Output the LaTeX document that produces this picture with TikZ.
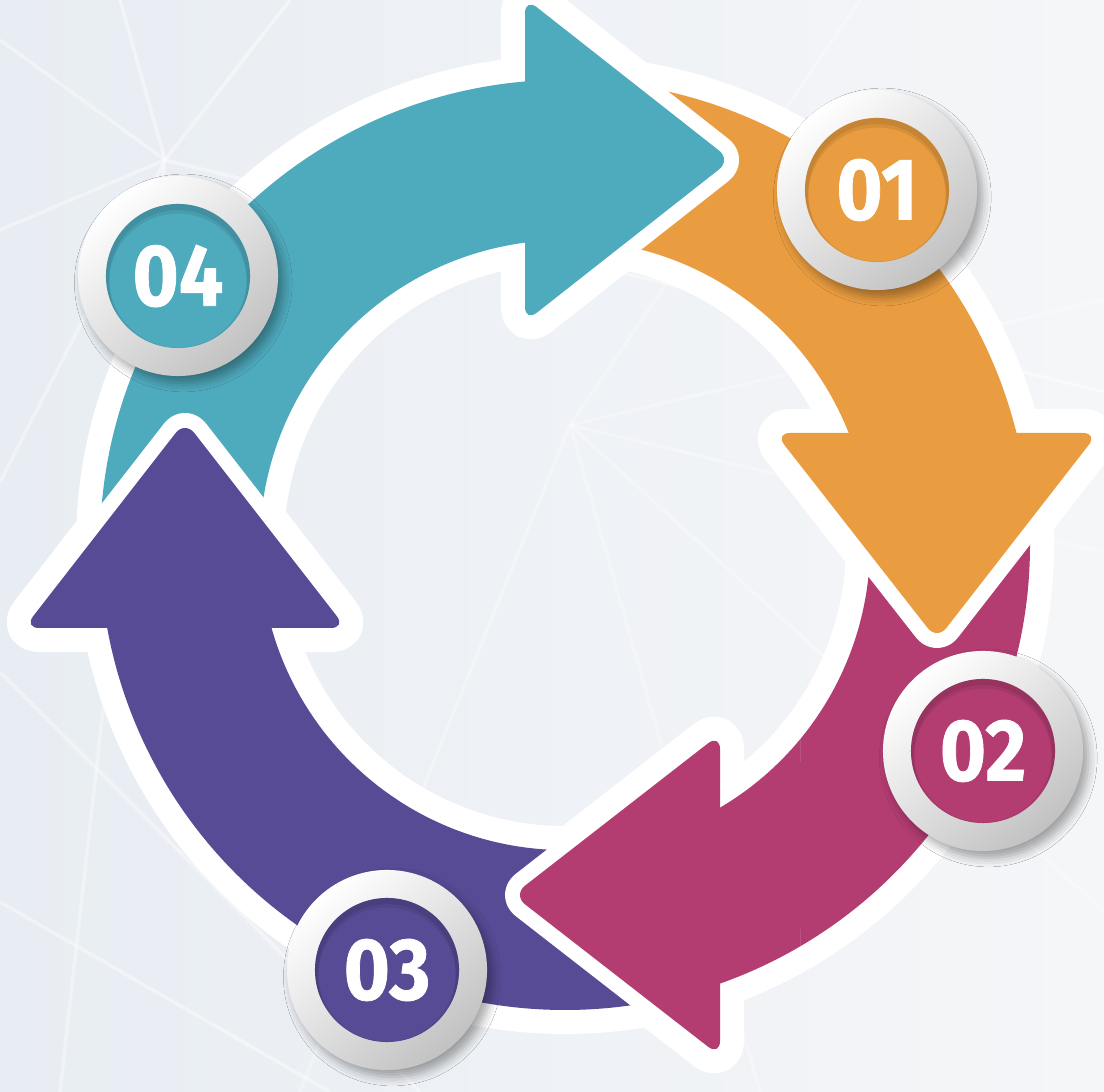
\documentclass[tikz,border=0pt]{standalone}
\usepackage{fontspec}
\usepackage{xcolor}
\usepackage{tikz}
\usetikzlibrary{calc,shadows.blur}

\newfontfamily\numfont{Fira Sans}[FakeStretch=0.9, FakeBold=0.8]

\definecolor{tealA}{HTML}{4EAABD}
\definecolor{orangeA}{HTML}{EA9D40}
\definecolor{magentaA}{HTML}{B33D71}
\definecolor{purpleA}{HTML}{574B95}
\definecolor{bgL}{HTML}{E8EDF3}
\definecolor{bgR}{HTML}{F5F6F8}

% bodies (bands of the ring) and heads of the four arrows, ctr = centre of the ring
\newcommand{\tealbody}{($(ctr)+(184.32:465)$) arc[start angle=184.32, end angle=94.93, radius=4.65cm]
    -- ($(ctr)+(97.54:305)$) arc[start angle=97.54, end angle=186.59, radius=3.05cm] -- cycle}
\newcommand{\tealhead}{(525,1094) -- (731,932) -- (525,770) -- cycle}
\newcommand{\orangebody}{($(ctr)+(85.68:465)$) arc[start angle=85.68, end angle=13.94, radius=4.65cm]
    -- ($(ctr)+(21.55:305)$) arc[start angle=21.55, end angle=83.41, radius=3.05cm] -- cycle}
\newcommand{\orangehead}{(1098,659) -- (937,452) -- (775,659) -- cycle}
\newcommand{\magentabody}{($(ctr)+(5.55:465)$) arc[start angle=5.55, end angle=-70.53, radius=4.65cm]
    -- ($(ctr)+(-59.46:305)$) arc[start angle=-59.46, end angle=8.48, radius=3.05cm] -- cycle}
\newcommand{\magentahead}{(720,36) -- (513,197) -- (720,358) -- cycle}
\newcommand{\purplebody}{($(ctr)+(-76.95:465)$) arc[start angle=-76.95, end angle=-169.72, radius=4.65cm]
    -- ($(ctr)+(-164.21:305)$) arc[start angle=-164.21, end angle=-69.86, radius=3.05cm] -- cycle}
\newcommand{\purplehead}{(24,464) -- (185,671) -- (346,464) -- cycle}

% one arrow: white rim first, then the colour
\newcommand{\ringarrow}[3]{%
    \path[rim] #2;
    \path[rim, rounded corners=4.3pt] #3;
    \fill[#1] #2;
    \fill[#1, rounded corners=4.3pt] #3;}

\begin{document}
\begin{tikzpicture}[x=0.01cm,y=0.01cm]
    \tikzstyle{bgline}=[white, line width=1pt, opacity=0.4]
    \tikzstyle{outline}=[draw=white, line width=0.48cm, line join=round]
    \tikzstyle{rim}=[draw=white, line width=0.3cm, line join=round]
    \tikzstyle{ring}=[circle, minimum size=2cm, inner sep=0pt,
        top color=white, bottom color=black!24, shading angle=40,
        blur shadow={shadow xshift=1.5pt, shadow yshift=-2pt,
            shadow blur radius=2.5pt, shadow opacity=35}]
    \tikzstyle{disc}=[circle, minimum size=1.44cm, inner sep=0pt, text=white,
        font=\numfont\bfseries\fontsize{25}{25}\selectfont,
        path picture={
            \draw[black, opacity=.08, line width=3pt]
                ([yshift=-0.8pt]path picture bounding box.center) circle[radius=0.74cm];
            \draw[black, opacity=.08, line width=3pt]
                ([yshift=-1.8pt]path picture bounding box.center) circle[radius=0.74cm];}]

    \useasboundingbox (0,0) rectangle (1104,1092);
    \shade[left color=bgL, right color=bgR] (0,0) rectangle (1104,1092);

    % faint rays in the background
    \coordinate (h1) at (165,932);
    \coordinate (h2) at (570,667);
    \foreach \p in {(0,1052),(120,1092),(290,1092),(0,862),(0,610),(1104,700),(60,0)}
        \draw[bgline] (h1) -- \p;
    \foreach \p in {(1104,792),(1104,540),(300,0),(760,0),(1104,180),(860,1092)}
        \draw[bgline, opacity=0.3] (h2) -- \p;
    \draw[bgline] (0,190) -- (330,0);
    \draw[bgline] (0,420) -- (420,0);

    \coordinate (ctr) at (565,547);

    % white ground under the whole ring
    \path[outline] \magentabody;
    \path[outline] \orangebody;
    \path[outline] \tealbody;
    \path[outline] \purplebody;
    \path[outline, rounded corners=4.3pt] \magentahead;
    \path[outline, rounded corners=4.3pt] \orangehead;
    \path[outline, rounded corners=4.3pt] \tealhead;
    \path[outline, rounded corners=4.3pt] \purplehead;

    \ringarrow{magentaA}{\magentabody}{\magentahead}
    \ringarrow{orangeA}{\orangebody}{\orangehead}
    \ringarrow{tealA}{\tealbody}{\tealhead}
    \ringarrow{purpleA}{\purplebody}{\purplehead}
    \begin{scope}
        \clip (400,0) rectangle (800,400);
        \ringarrow{magentaA}{\magentabody}{\magentahead}
    \end{scope}

    % numbered badges
    \node[ring] (b1) at (877,902) {};
    \node[disc, fill=orangeA] (n1) at (b1) {01};
    \node[ring] (b2) at (983,341) {};
    \node[disc, fill=magentaA] (n2) at (b2) {02};
    \node[ring] (b3) at (387,122) {};
    \node[disc, fill=purpleA] (n3) at (b3) {03};
    \node[ring] (b4) at (178,816) {};
    \node[disc, fill=tealA] (n4) at (b4) {04};
\end{tikzpicture}
\end{document}
